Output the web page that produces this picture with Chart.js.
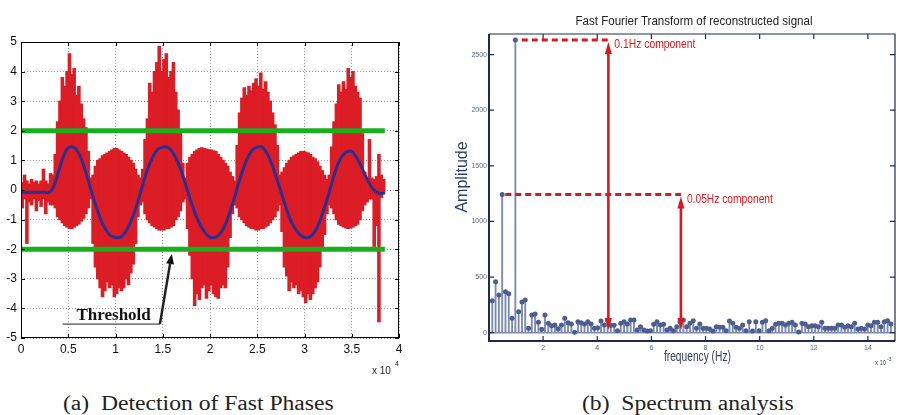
<!DOCTYPE html>
<html>
<head>
<meta charset="utf-8">
<script src="https://cdn.jsdelivr.net/npm/chart.js@4.4.1/dist/chart.umd.min.js"></script>
<style>
  html, body { margin: 0; padding: 0; background: #fff; }
  body { width: 899px; height: 415px; position: relative; overflow: hidden; }
  #zoneA { position: absolute; left: 0; top: 0; }
  #zoneB { position: absolute; left: 440px; top: 0; }
  .caption { position: absolute; top: 393px; font-family: 'Liberation Serif', 'Times New Roman', serif; font-size: 20px; line-height: 20px; color: #222; white-space: pre; transform: scaleX(1.18); transform-origin: left top; }
</style>
</head>
<body>
<canvas id="zoneA" width="430" height="385"></canvas>
<canvas id="zoneB" width="459" height="372"></canvas>
<div class="caption" style="left:63px">(a)  Detection of Fast Phases</div>
<div class="caption" style="left:582px">(b)  Spectrum analysis</div>
<script>
/* ---------- (a) signal : bins of 0.025 x 10^4 samples ---------- */
const binWidth = 0.025
const sigHigh = [0.25, 0.5, 0.3, 0.2, 0.35, 0.25, 0.3, 0.2, 0.3, 0.7, 0.3, 0.2, 0.55,
  0.5, 1.2, 2.3, 3.0, 3.8, 3.5, 4.0, 4.6, 3.9, 4.1, 3.2, 3.5, 2.9, 2.4, 2.1, 1.3, 0.4,
  0.5, 0.8, 1.0, 1.05, 1.15, 1.2, 1.25, 1.3, 1.35, 1.4, 1.4, 1.35, 1.3, 1.25, 1.2, 1.1, 1.0, 0.9, 0.7, 0.5, 0.4,
  0.7, 1.7, 2.4, 3.6, 3.3, 4.0, 4.3, 4.85, 4.0, 4.4, 4.6, 3.8, 4.0, 4.3, 3.3, 2.7, 2.0, 0.9, 0.4,
  0.9, 1.1, 1.2, 1.3, 1.35, 1.4, 1.42, 1.4, 1.38, 1.36, 1.35, 1.32, 1.3, 1.2, 1.1, 1.0, 0.9, 0.8, 0.6, 0.45, 0.3,
  1.5, 2.6, 3.1, 3.45, 3.2, 3.5, 3.35, 3.6, 3.75, 3.5, 3.95, 3.4, 3.65, 3.3, 3.0, 2.6, 2.2, 1.5, 0.5,
  0.6, 0.75, 0.9, 1.0, 1.1, 1.15, 1.2, 1.25, 1.3, 1.3, 1.28, 1.25, 1.2, 1.1, 1.05, 0.95, 0.8, 0.65, 0.5, 0.35, 0.5,
  1.45, 2.3, 2.9, 3.55, 3.3, 3.65, 3.4, 4.1, 3.8, 4.0, 3.5, 3.3, 3.1, 1.9, 0.6, 0.3, 1.7, 0.4, 0.35, 0.45, 1.2, 0.5, 0.35]
const sigLow = [-0.6, -0.3, -1.8, -0.4, -0.5, -0.3, -0.7, -0.35, -0.55, -0.3, -0.8, -0.4, -0.5,
  -0.5, -0.6, -0.9, -1.0, -1.1, -1.2, -1.25, -1.3, -1.3, -1.25, -1.2, -1.15, -1.05, -0.95, -0.8, -0.6, -0.3,
  -1.8, -2.6, -3.0, -3.3, -3.6, -3.4, -3.1, -3.3, -3.2, -3.6, -3.5, -3.3, -3.4, -3.3, -3.0, -3.2, -2.8, -2.5, -1.8, -0.9, -0.5,
  -0.4, -0.8, -1.0, -1.1, -1.2, -1.25, -1.3, -1.35, -1.35, -1.35, -1.3, -1.3, -1.25, -1.2, -1.0, -0.9, -0.7, -0.4, -0.3,
  -1.3, -2.2, -3.0, -3.9, -3.5, -3.7, -3.3, -3.2, -3.65, -3.4, -3.2, -3.5, -3.6, -3.65, -3.3, -3.2, -3.3, -2.6, -1.6, -0.8, -0.5,
  -0.6, -0.9, -1.0, -1.1, -1.2, -1.25, -1.3, -1.3, -1.35, -1.35, -1.3, -1.3, -1.25, -1.2, -1.1, -1.0, -0.9, -0.7, -0.5,
  -1.4, -2.6, -2.9, -3.4, -3.1, -3.3, -3.2, -3.5, -3.4, -3.6, -3.8, -3.5, -3.7, -3.5, -3.3, -3.1, -2.6, -2.0, -1.5, -0.8, -0.5,
  -0.6, -0.8, -1.0, -1.15, -1.2, -1.25, -1.28, -1.3, -1.28, -1.25, -1.2, -1.15, -1.0, -0.7, -0.5, -0.4, -0.3, -0.3, -1.9, -1.2, -4.45, -0.25, -0.1]

/* slow component, one value every 0.05 x 10^4 */
const slowStep = 0.05
const slowWave = [-0.08, -0.08, -0.08, -0.08, -0.08, -0.08, -0.08, 0.15, 0.65, 1.15, 1.42, 1.45, 1.3, 0.95, 0.45,
  -0.1, -0.6, -1.05, -1.35, -1.55, -1.6, -1.6, -1.45, -1.15, -0.75, -0.25, 0.3, 0.8, 1.15, 1.38, 1.45, 1.45, 1.3,
  1.0, 0.6, 0.1, -0.4, -0.85, -1.2, -1.45, -1.6, -1.6, -1.5, -1.25, -0.85, -0.35, 0.2, 0.7, 1.1, 1.35, 1.45, 1.45,
  1.25, 0.9, 0.45, -0.05, -0.55, -1.0, -1.3, -1.5, -1.6, -1.6, -1.45, -1.15, -0.7, -0.2, 0.35, 0.85, 1.15, 1.3,
  1.3, 1.1, 0.8, 0.45, 0.15, -0.05, -0.12, -0.1]

const thresholds = [2, -2]
const thresholdEnd = 3.85
const xTicksA = [0, 0.5, 1, 1.5, 2, 2.5, 3, 3.5, 4]
const yTicksA = [-5, -4, -3, -2, -1, 0, 1, 2, 3, 4, 5]

/* ---------- (b) spectrum ---------- */
const freqStep = 0.1217 // x 10^-3 Hz
const amplitudes = [287, 458, 338, 1242, 368, 350, 129, 2632, 189, 275, 293, 39, 159, 168, 93, 30, 159, 84, 63, 69,
  36, 69, 129, 90, 78, 3, 99, 90, 78, 99, 78, 39, 45, 105, 69, 114, 66, 66, 18, 84,
  99, 78, 114, 114, 24, 54, 24, 15, 18, 75, 99, 69, 75, 24, 39, 18, 54, 99, 114, 54,
  84, 108, 39, 78, 39, 39, 33, 15, 54, 48, 48, 18, 105, 84, 48, 39, 69, 18, 99, 15,
  99, 18, 93, 108, 18, 39, 75, 84, 84, 69, 84, 93, 69, 6, 84, 78, 54, 63, 63, 54,
  93, 39, 39, 39, 39, 69, 69, 48, 63, 54, 84, 33, 39, 33, 69, 63, 93, 93, 54, 99, 108, 78]
const xTicksB = [2, 4, 6, 8, 10, 12, 14]
const yTicksB = [0, 500, 1000, 1500, 2000, 2500]
const components = ['0.1Hz component', '0.05Hz component']
const compLevel = [amplitudes[7], amplitudes[3]]
const compDashFrom = [1.21, 0.6]
const compArrowAt = [4.41, 7.09]

Chart.defaults.animation = false
Chart.defaults.font.family = "'Liberation Sans', Arial, sans-serif"

const headArrow = (ctx, x1, y1, x2, y2, len, wid) => {
  const a = Math.atan2(y2 - y1, x2 - x1)
  const bx = x2 - len * Math.cos(a), by = y2 - len * Math.sin(a)
  ctx.beginPath()
  ctx.moveTo(x2, y2)
  ctx.lineTo(bx + wid * Math.sin(a), by - wid * Math.cos(a))
  ctx.lineTo(bx - wid * Math.sin(a), by + wid * Math.cos(a))
  ctx.closePath()
  ctx.fill()
}

/* cadre, graduations internes et annotation "Threshold" */
const decorA = {
  id: 'decorA',
  afterDraw(chart) {
    const { ctx, chartArea: a, scales: { x, y } } = chart
    ctx.save()
    ctx.strokeStyle = '#000'
    ctx.lineWidth = 1
    ctx.strokeRect(a.left + 0.5, a.top + 0.5, a.right - a.left - 1, a.bottom - a.top - 1)
    ctx.beginPath()
    xTicksA.forEach(v => {
      const px = Math.round(x.getPixelForValue(v)) + 0.5
      ctx.moveTo(px, a.bottom); ctx.lineTo(px, a.bottom - 4)
      ctx.moveTo(px, a.top); ctx.lineTo(px, a.top + 4)
    })
    yTicksA.forEach(v => {
      const py = Math.round(y.getPixelForValue(v)) + 0.5
      ctx.moveTo(a.left, py); ctx.lineTo(a.left + 4, py)
      ctx.moveTo(a.right, py); ctx.lineTo(a.right - 4, py)
    })
    ctx.stroke()

    // Threshold
    ctx.fillStyle = '#111'
    ctx.font = "bold 17px 'Liberation Serif', 'Times New Roman', serif"
    ctx.textAlign = 'center'
    ctx.textBaseline = 'alphabetic'
    ctx.fillText('Threshold', x.getPixelForValue(0.98), y.getPixelForValue(-4.4))
    ctx.strokeStyle = '#222'
    ctx.lineWidth = 1
    ctx.beginPath()
    ctx.moveTo(x.getPixelForValue(0.44), y.getPixelForValue(-4.53))
    ctx.lineTo(x.getPixelForValue(1.47), y.getPixelForValue(-4.53))
    ctx.stroke()
    const tx = x.getPixelForValue(1.47), ty = y.getPixelForValue(-4.53)
    const hx = x.getPixelForValue(1.595), hy = y.getPixelForValue(-2.16)
    ctx.lineWidth = 2.5
    ctx.beginPath()
    ctx.moveTo(tx, ty)
    ctx.lineTo(hx - (hx - tx) * 0.12, hy + (ty - hy) * 0.12)
    ctx.stroke()
    headArrow(ctx, tx, ty, hx, hy, 10, 4)

    // x 10^4
    ctx.fillStyle = '#222'
    ctx.textAlign = 'left'
    ctx.textBaseline = 'middle'
    ctx.font = "10px 'Liberation Sans', Arial, sans-serif"
    ctx.fillText('x 10', a.right - 27, a.bottom + 33)
    ctx.font = "7px 'Liberation Sans', Arial, sans-serif"
    ctx.fillText('4', a.right - 4, a.bottom + 26)
    ctx.restore()
  }
}

new Chart(document.querySelector('#zoneA'), {
  type: 'bar',
  data: {
    datasets: [
      {
        type: 'line',
        data: slowWave.map((v, i) => ({ x: i * slowStep, y: v })),
        borderColor: '#2b2f8e',
        borderWidth: 3,
        pointRadius: 0,
        tension: 0.4,
        order: 1
      },
      ...thresholds.map(t => ({
        type: 'line',
        data: [{ x: 0, y: t }, { x: thresholdEnd, y: t }],
        borderColor: '#1aae1f',
        borderWidth: 5,
        pointRadius: 0,
        order: 2
      })),
      {
        data: sigHigh.map((h, i) => ({ x: (i + 0.5) * binWidth, y: [sigLow[i], h] })),
        backgroundColor: '#dc1d25',
        borderWidth: 0,
        barPercentage: 1,
        categoryPercentage: 1,
        inflateAmount: 0.6,
        order: 3
      }
    ]
  },
  options: {
    responsive: false,
    layout: { padding: { top: 42, right: 31, left: 0, bottom: 0 } },
    plugins: { legend: { display: false }, tooltip: { enabled: false } },
    scales: {
      x: {
        type: 'linear', min: 0, max: 4, offset: false,
        afterBuildTicks: s => { s.ticks = xTicksA.map(v => ({ value: v })) },
        afterFit: s => { s.height = 47 },
        ticks: { padding: 4, color: '#111', font: { size: 12 }, maxRotation: 0, autoSkip: false, callback: v => String(v) },
        grid: { color: '#9a9a9a', drawTicks: false, offset: false },
        border: { display: false, dash: [1, 2] }
      },
      y: {
        type: 'linear', min: -5, max: 5,
        afterBuildTicks: s => { s.ticks = yTicksA.map(v => ({ value: v })) },
        afterFit: s => { s.width = 21 },
        ticks: { padding: 4, color: '#111', font: { size: 12 }, callback: v => String(v) },
        grid: { color: '#9a9a9a', drawTicks: false },
        border: { display: false, dash: [1, 2] }
      }
    }
  },
  plugins: [decorA]
})

/* cadre, titres et flèches du spectre */
const decorB = {
  id: 'decorB',
  afterDraw(chart) {
    const { ctx, chartArea: a, scales: { x, y } } = chart
    const navy = '#1f2c4d'
    const label = '#2d3d63'
    const sans = "'Liberation Sans', Arial, sans-serif"
    ctx.save()
    ctx.strokeStyle = navy
    ctx.lineWidth = 2
    ctx.beginPath()
    ctx.moveTo(a.left, a.top); ctx.lineTo(a.left, a.bottom); ctx.lineTo(a.right, a.bottom)
    ctx.stroke()
    ctx.lineWidth = 1.2
    ctx.beginPath()
    ctx.moveTo(a.left, a.top); ctx.lineTo(a.right, a.top); ctx.lineTo(a.right, a.bottom)
    xTicksB.forEach(v => {
      const px = x.getPixelForValue(v)
      ctx.moveTo(px, a.bottom); ctx.lineTo(px, a.bottom - 5)
      ctx.moveTo(px, a.top); ctx.lineTo(px, a.top + 5)
    })
    yTicksB.forEach(v => {
      const py = y.getPixelForValue(v)
      ctx.moveTo(a.left, py); ctx.lineTo(a.left + 5, py)
      ctx.moveTo(a.right, py); ctx.lineTo(a.right - 5, py)
    })
    ctx.stroke()

    // composantes
    const compWidth = [81, 86]
    components.forEach((txt, i) => {
      const ly = y.getPixelForValue(compLevel[i])
      const ax = x.getPixelForValue(compArrowAt[i])
      ctx.strokeStyle = '#d8191f'
      ctx.fillStyle = '#d8191f'
      ctx.lineWidth = 3
      ctx.setLineDash([6, 4])
      ctx.beginPath()
      ctx.moveTo(x.getPixelForValue(compDashFrom[i]), ly)
      ctx.lineTo(ax, ly)
      ctx.stroke()
      ctx.setLineDash([])
      const top = ly + 2, bottom = y.getPixelForValue(25)
      ctx.lineWidth = 2.6
      ctx.beginPath()
      ctx.moveTo(ax, top + 8); ctx.lineTo(ax, bottom - 8)
      ctx.stroke()
      headArrow(ctx, ax, bottom, ax, top, 12, 3.5)
      headArrow(ctx, ax, top, ax, bottom, 12, 3.5)
      ctx.font = '13px ' + sans
      ctx.textAlign = 'left'
      ctx.textBaseline = 'middle'
      ctx.fillText(txt, ax + 6, ly + 4.5, compWidth[i])
    })

    // textes
    ctx.fillStyle = '#222'
    ctx.textAlign = 'center'
    ctx.textBaseline = 'middle'
    ctx.font = '13px ' + sans
    ctx.fillText('Fast Fourier Transform of reconstructed signal', (a.left + a.right) / 2 + 2, 21, 237)
    ctx.fillStyle = label
    ctx.font = '14px ' + sans
    ctx.fillText('frequency (Hz)', x.getPixelForValue(7.7), a.bottom + 16, 67)
    ctx.font = '16px ' + sans
    ctx.save()
    ctx.translate(a.left - 26, 177)
    ctx.rotate(-Math.PI / 2)
    ctx.fillText('Amplitude', 0, 0, 80)
    ctx.restore()
    ctx.textAlign = 'left'
    ctx.font = '7px ' + sans
    ctx.fillText('x 10', a.right - 20, a.bottom + 22, 11)
    ctx.font = '5px ' + sans
    ctx.fillText('-3', a.right - 8, a.bottom + 19)
    ctx.restore()
  }
}

new Chart(document.querySelector('#zoneB'), {
  type: 'bar',
  data: {
    datasets: [
      {
        type: 'line',
        data: amplitudes.map((v, i) => ({ x: (i + 1) * freqStep, y: v })),
        showLine: false,
        pointRadius: 2.5,
        pointBorderWidth: 0,
        pointBackgroundColor: '#4c5e8f',
        order: 1
      },
      {
        type: 'line',
        data: [{ x: 0, y: 0 }, { x: 15, y: 0 }],
        borderColor: '#7d8cb0',
        borderWidth: 1.5,
        pointRadius: 0,
        order: 2
      },
      {
        data: amplitudes.map((v, i) => ({ x: (i + 1) * freqStep, y: v })),
        backgroundColor: '#7a89ad',
        barThickness: 1.2,
        borderWidth: 0,
        order: 3
      }
    ]
  },
  options: {
    responsive: false,
    layout: { padding: { top: 34, right: 1, left: 0, bottom: 0 } },
    plugins: { legend: { display: false }, tooltip: { enabled: false } },
    scales: {
      x: {
        type: 'linear', min: 0, max: 15, offset: false,
        afterBuildTicks: s => { s.ticks = xTicksB.map(v => ({ value: v })) },
        afterFit: s => { s.height = 31 },
        ticks: { padding: 3, color: '#5a6989', font: { size: 7 }, maxRotation: 0, autoSkip: false, callback: v => String(v) },
        grid: { display: false, drawTicks: false, offset: false },
        border: { display: false }
      },
      y: {
        type: 'linear', min: -75, max: 2685,
        afterBuildTicks: s => { s.ticks = yTicksB.map(v => ({ value: v })) },
        afterFit: s => { s.width = 49 },
        ticks: { padding: 2, color: '#5a6989', font: { size: 7 }, callback: v => String(v) },
        grid: { display: false, drawTicks: false },
        border: { display: false }
      }
    }
  },
  plugins: [decorB]
})
</script>
</body>
</html>
